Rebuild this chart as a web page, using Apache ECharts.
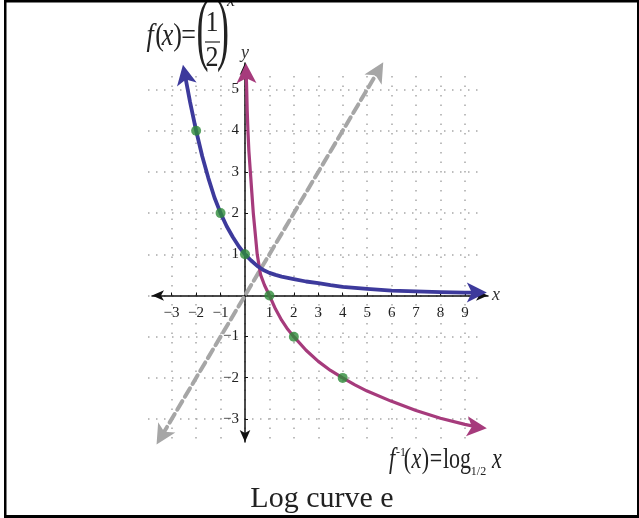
<!DOCTYPE html>
<html>
<head>
<meta charset="utf-8">
<title>Log curve e</title>
<script src="https://cdn.jsdelivr.net/npm/echarts@6/dist/echarts.min.js"></script>
<style>
    html, body { margin: 0; padding: 0; background: #fff; }
    #chart { width: 639px; height: 518px; }
</style>
</head>
<body>
<div id="chart"></div>
<script>
// visible axis extents (data units, arrow tips)
var xRange = [-3.8, 9.94];
var yRange = [-3.56, 5.64];
// dotted grid: integer lines
var gridX = [-3, 9];
var gridY = [-3, 5];
// plotting window for the curves (same scale, wider)
var plotX = [-4, 10.5];
var plotY = [-4, 6];

// f(x) = (1/2)^x
var expX = [-2.46, -2.25, -2, -1.75, -1.5, -1.25, -1, -0.75, -0.5, -0.25, 0, 0.25, 0.5, 0.75, 1, 1.25, 1.5,
            2, 2.5, 3, 3.5, 4, 5, 6, 7, 8, 9, 9.55];
var expY = [5.36, 4.7, 4, 3.38, 2.85, 2.38, 2, 1.68, 1.42, 1.19, 1, 0.85, 0.72, 0.62, 0.55, 0.5, 0.46,
            0.4, 0.34, 0.3, 0.25, 0.21, 0.16, 0.12, 0.1, 0.08, 0.07, 0.07];
var expTips = [[-2.54, 5.6], [9.9, 0.07]];

// f^-1(x) = log_1/2 x
var logX = [0.05, 0.06, 0.07, 0.09, 0.12, 0.16, 0.22, 0.28, 0.34, 0.42, 0.5, 0.64, 0.8, 1, 1.25, 1.5, 1.75,
            2, 2.5, 3, 3.5, 4, 4.5, 5, 6, 7, 8, 9, 9.55];
var logY = [5.4, 5.2, 5.0, 4.5, 4.0, 3.5, 3.0, 2.5, 2.0, 1.5, 1.0, 0.5, 0.25, 0, -0.33, -0.6, -0.82,
            -1, -1.33, -1.6, -1.82, -2, -2.17, -2.32, -2.57, -2.79, -2.98, -3.13, -3.2];
var logTips = [[0.04, 5.64], [9.9, -3.22]];

// y = x (dashed)
var diagX = [-3.4, 5.4];
var diagY = [-3.4, 5.4];
var diagTips = [[-3.62, -3.62], [5.66, 5.66]];

// green points
var dotX = [-2, -1, 0, 1, 2, 4];
var dotY = [4, 2, 1, 0, -1, -2];

var serif = '"Liberation Serif", "Times New Roman", serif';
var dotted = {color: '#a8a8a8', width: 1.5};

function pairs(xs, ys) {
    return xs.map(function (x, i) { return [x, ys[i]]; });
}

function tickText(v) {
    if (v === 0 || Math.abs(v - Math.round(v)) > 1e-6) return '';
    return v < 0 ? '\u2212' + (-v) : String(v);
}

function curve(xs, ys, tips, color, width, dash) {
    var pts = pairs(xs, ys);
    return {
        type: 'line',
        xAxisIndex: 3,
        yAxisIndex: 3,
        data: pts,
        smooth: false,
        showSymbol: false,
        symbol: 'none',
        clip: false,
        silent: true,
        lineStyle: {color: color, width: width, type: dash || 'solid', cap: 'round', join: 'round'},
        markLine: {
            silent: true,
            animation: false,
            symbol: ['none', 'arrow'],
            symbolSize: [15, 20],
            label: {show: false},
            lineStyle: {color: color, width: 0, type: 'solid'},
            data: [
                [{coord: pts[0]}, {coord: tips[0]}],
                [{coord: pts[pts.length - 1]}, {coord: tips[1]}]
            ]
        }
    };
}

function glyph(t, x, y, size, italic, sx, sy) {
    return {
        type: 'text',
        x: x, y: y,
        scaleX: sx || 1,
        scaleY: sy || 1,
        style: {
            text: t,
            font: (italic ? 'italic ' : '') + size + 'px ' + serif,
            fill: '#222',
            textAlign: 'center',
            textVerticalAlign: 'middle'
        }
    };
}

var chart = echarts.init(document.getElementById('chart'));

var option = {
    animation: false,
    backgroundColor: '#fff',
    grid: [
        {left: 152, top: 63, width: 336, height: 379},          // visible axes
        {left: 171.7, top: 76, width: 293.2, height: 364},      // vertical dotted lines
        {left: 148, top: 89.55, width: 336, height: 329.5},     // horizontal dotted lines
        {left: 147.28, top: 48.36, width: 354.2, height: 411.9} // curves
    ],
    xAxis: [
        {
            gridIndex: 0, type: 'value',
            min: xRange[0], max: xRange[1],
            splitNumber: 13, minInterval: 1, maxInterval: 1,
            offset: -146.5,
            axisLine: {onZero: false, symbol: ['arrow', 'arrow'], symbolSize: [8, 12],
                lineStyle: {color: '#111', width: 1.5}},
            axisTick: {show: true, inside: true, length: 3, lineStyle: {color: '#111'}},
            axisLabel: {formatter: tickText, margin: 10, fontFamily: serif, fontSize: 15,
                color: '#222', showMinLabel: false, showMaxLabel: false},
            splitLine: {show: false},
            name: 'x', nameLocation: 'end', nameGap: 4,
            nameTextStyle: {fontFamily: serif, fontStyle: 'italic', fontSize: 18, color: '#333'}
        },
        {
            gridIndex: 1, type: 'value', min: gridX[0], max: gridX[1], interval: 1,
            axisLine: {show: false}, axisTick: {show: false}, axisLabel: {show: false},
            splitLine: {show: true, lineStyle: Object.assign({type: [1.5, 8]}, dotted)}
        },
        {gridIndex: 2, type: 'value', min: plotX[0], max: plotX[1], show: false},
        {gridIndex: 3, type: 'value', min: plotX[0], max: plotX[1], show: false}
    ],
    yAxis: [
        {
            gridIndex: 0, type: 'value',
            min: yRange[0], max: yRange[1],
            splitNumber: 9, minInterval: 1, maxInterval: 1,
            offset: -93,
            axisLine: {onZero: false, symbol: ['arrow', 'arrow'], symbolSize: [8, 12],
                lineStyle: {color: '#111', width: 1.5}},
            axisTick: {show: true, inside: true, length: 3, lineStyle: {color: '#111'}},
            axisLabel: {formatter: tickText, margin: 6, fontFamily: serif, fontSize: 15,
                color: '#222', showMinLabel: false, showMaxLabel: false},
            splitLine: {show: false},
            name: 'y', nameLocation: 'end', nameGap: 1,
            nameTextStyle: {fontFamily: serif, fontStyle: 'italic', fontSize: 18, color: '#333'}
        },
        {gridIndex: 1, type: 'value', min: plotY[0], max: plotY[1], show: false},
        {
            gridIndex: 2, type: 'value', min: gridY[0], max: gridY[1], interval: 1,
            axisLine: {show: false}, axisTick: {show: false}, axisLabel: {show: false},
            splitLine: {show: true, lineStyle: Object.assign({type: [1.5, 6.5]}, dotted)}
        },
        {gridIndex: 3, type: 'value', min: plotY[0], max: plotY[1], show: false}
    ],
    series: [
        curve(diagX, diagY, diagTips, '#a6a6a6', 4, [10, 5]),
        curve(logX, logY, logTips, '#a63b7c', 3.2),
        curve(expX, expY, expTips, '#3d3a9c', 3.8),
        {
            type: 'scatter',
            xAxisIndex: 3,
            yAxisIndex: 3,
            data: pairs(dotX, dotY),
            symbolSize: 10,
            silent: true,
            z: 6,
            itemStyle: {color: '#2e8b3a'}
        }
    ],
    graphic: [
        // f(x) = (1/2)^x
        glyph('f', 150, 36.7, 26, true, 1, 1.25),
        glyph('(', 159.5, 36.7, 26, false, 1, 1.25),
        glyph('x', 167.5, 36.7, 26, true, 1, 1.25),
        glyph(')', 177.5, 36.7, 26, false, 1, 1.25),
        glyph('=', 188.5, 36.7, 26, false, 1, 1.25),
        glyph('(', 202.5, 34, 80, false, 0.45),
        glyph('1', 212, 23.5, 26, false, 1, 1.1),
        {type: 'line', shape: {x1: 205, y1: 42, x2: 220, y2: 42}, style: {stroke: '#222', lineWidth: 1.2}},
        glyph('2', 212, 58.5, 26, false, 1, 1.1),
        glyph(')', 223, 34, 80, false, 0.45),
        glyph('x', 231, 1.5, 18, true),
        // f^-1(x) = log_1/2 x
        glyph('f', 392, 460.9, 22, true, 1, 1.3),
        glyph('-1', 401, 452.6, 12),
        glyph('(', 407.5, 460.9, 22, false, 1, 1.3),
        glyph('x', 416.5, 460.9, 22, true, 1, 1.3),
        glyph(')', 425.5, 460.9, 22, false, 1, 1.3),
        glyph('=', 436, 460.9, 22, false, 1, 1.3),
        glyph('log', 457, 460.9, 22, false, 1, 1.3),
        glyph('1/2', 478.5, 471.6, 12),
        glyph('x', 497, 460.9, 22, true, 1, 1.3),
        // caption
        glyph('Log curve e', 322, 498.9, 30),
        // frame
        {type: 'rect', shape: {x: 4, y: 0, width: 635, height: 2.5}, style: {fill: '#000'}},
        {type: 'rect', shape: {x: 4, y: 0, width: 2.5, height: 518}, style: {fill: '#000'}},
        {type: 'rect', shape: {x: 4, y: 515, width: 635, height: 3}, style: {fill: '#000'}},
        {type: 'rect', shape: {x: 637, y: 0, width: 2, height: 518}, style: {fill: '#000'}}
    ]
};

chart.setOption(option);
window.onresize = function () {
    chart.resize();
};
</script>
</body>
</html>
